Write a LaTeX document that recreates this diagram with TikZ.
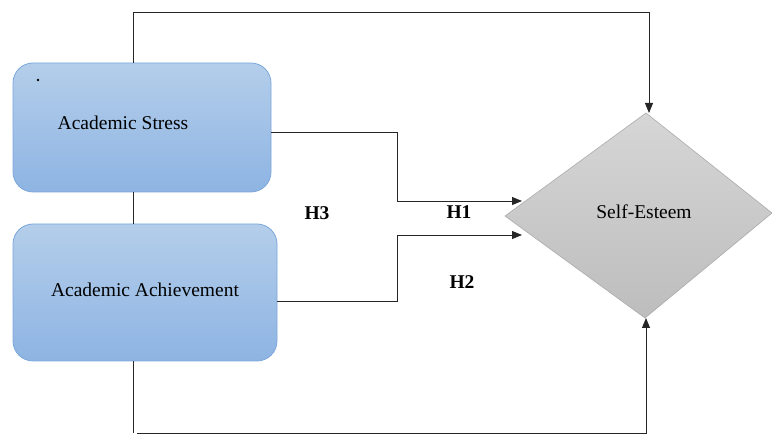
\documentclass[tikz,border=0pt]{standalone}
\usepackage{fontspec}
\setmainfont{Liberation Serif}
\usetikzlibrary{arrows.meta,calc}
\definecolor{boxtop}{HTML}{B4CEEA}
\definecolor{boxbot}{HTML}{8EB4E3}
\definecolor{boxline}{HTML}{7BA7DA}
\definecolor{diatop}{HTML}{D6D6D6}
\definecolor{diabot}{HTML}{BDBDBD}
\definecolor{dialine}{HTML}{ABABAB}
\definecolor{linecol}{HTML}{262626}
\begin{document}
\begin{tikzpicture}[x=1pt,y=-1pt,
  varbox/.style={draw=boxline,line width=0.8pt,rounded corners=20pt,top color=boxtop,bottom color=boxbot,inner sep=0pt},
  txt/.style={font=\fontsize{19.5}{22}\selectfont,inner sep=0pt,text=black},
  hyp/.style={font=\fontsize{19.5}{22}\selectfont\bfseries,inner sep=0pt,text=black},
  conn/.style={draw=linecol,line width=0.9pt},
  arr/.style={conn,-{Triangle[length=10pt,width=8pt]}}]
\useasboundingbox (0,0) rectangle (772,435);
% boxes
\node[varbox,minimum width=258pt,minimum height=129pt] (box1) at (142,127.5) {};
\node[varbox,minimum width=264pt,minimum height=137pt] (box2) at (145,292.5) {};
\node[txt] (t1) at (123,123) {Academic Stress};
\node[txt] (t2) at (145,290) {Academic Achievement};
\fill (38,80) circle (1.3pt);
% diamond
\coordinate (dt) at (646,113);
\coordinate (dr) at (772,213);
\coordinate (db) at (645,318);
\coordinate (dl) at (505,216);
\shade[top color=diatop,bottom color=diabot,draw=dialine,line width=0.6pt] (dt) -- (dr) -- (db) -- (dl) -- cycle;
\node[txt] (se) at (644,212) {Self-Esteem};
\coordinate (in1) at (522,201);
\coordinate (in2) at (522,235);
\coordinate (intop) at (649,113);
\coordinate (inbot) at (646,318);
% connectors
\draw[conn] ($(box1.south)+(-9,0)$) -- ($(box2.north)+(-12,0)$);
\draw[arr] ($(box1.north)+(-9,0)$) -- (133,12) -| (intop);
\draw[arr] ($(box1.east)+(0,4.5)$) -- (397,132) |- (in1);
\draw[arr] ($(box2.east)+(0,8.5)$) -- (397,301) |- (in2);
\draw[conn] ($(box2.south)+(-12,0)$) -- (133,433);
\draw[arr] (137,433.5) -- (646,433.5) -- (inbot);
\draw[draw=linecol,line width=1.8pt] (137,433.5) -- (646,433.5);
% labels
\node[hyp] (h1) at (459,212) {H1};
\node[hyp] (h2) at (462,282) {H2};
\node[hyp] (h3) at (317,213) {H3};
\end{tikzpicture}
\end{document}
